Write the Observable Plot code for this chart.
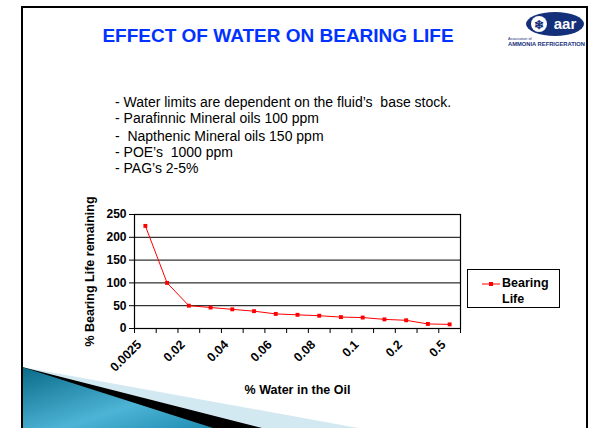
<!DOCTYPE html>
<html>
<head>
<meta charset="utf-8">
<script src="https://cdn.jsdelivr.net/npm/d3@7"></script>
<script src="https://cdn.jsdelivr.net/npm/@observablehq/plot@0.6"></script>
<style>
  html, body { margin: 0; padding: 0; background: #fff; }
  body { width: 590px; height: 428px; position: relative; overflow: hidden; font-family: "Liberation Sans", Arial, sans-serif; }
  .abs { position: absolute; }
  #slide { left: 21px; top: 6px; width: 563px; height: 520px; border: 2px solid #000; border-bottom: none; }
  #title { left: 0; width: 556px; top: 25px; text-align: center; color: #0033ff; font-weight: bold; font-size: 19px; white-space: nowrap; }
  .bl { left: 115px; font-size: 14px; color: #000; white-space: pre; line-height: 1; }
  #legend { left: 467px; top: 269px; width: 93px; height: 39px; border: 1px solid #000; box-sizing: border-box; background: #fff; }
  .lt { position: absolute; font-weight: bold; font-size: 12.5px; line-height: 1; }
  #chart { left: 0; top: 170px; }
</style>
</head>
<body>
<svg class="abs" style="left:0;top:0" width="590" height="428">
  <defs>
    <linearGradient id="wg" x1="0" y1="0" x2="1" y2="1">
      <stop offset="0" stop-color="#0a6a88"/>
      <stop offset="0.6" stop-color="#4db4d6"/>
      <stop offset="1" stop-color="#1f8db1"/>
    </linearGradient>
  </defs>
  <polygon points="22,367 358,428 22,428" fill="#d3e9f1"/>
  <polygon points="22,367 262,428 22,428" fill="#000"/>
  <polygon points="22,367 213,428 22,428" fill="url(#wg)"/>
</svg>
<div id="slide" class="abs"></div>
<div id="title" class="abs">EFFECT OF WATER ON BEARING LIFE</div>
<svg class="abs" style="left:500px;top:8px" width="88" height="44">
  <ellipse cx="55" cy="16" rx="29" ry="12" fill="#15307a"/>
  <circle cx="39" cy="16" r="8" fill="#fff"/>
  <text x="39" y="20.5" fill="#15307a" font-size="12" font-weight="bold" text-anchor="middle">❄</text>
  <text x="65" y="21" fill="#fff" font-size="15" font-weight="bold" text-anchor="middle" font-family="Liberation Sans, Arial">aar</text>
  <text x="8" y="32" fill="#15307a" font-size="3.8" font-family="Liberation Sans, Arial">Association of</text>
  <text x="8" y="37.5" fill="#15307a" font-size="5.5" font-weight="bold" font-family="Liberation Sans, Arial" textLength="77" lengthAdjust="spacingAndGlyphs">AMMONIA REFRIGERATION</text>
</svg>
<div class="abs bl" style="top:95px">- Water limits are dependent on the fluid’s  base stock.</div>
<div class="abs bl" style="top:111px">- Parafinnic Mineral oils 100 ppm</div>
<div class="abs bl" style="top:129px">-  Napthenic Mineral oils 150 ppm</div>
<div class="abs bl" style="top:145px">- POE’s  1000 ppm</div>
<div class="abs bl" style="top:161px">- PAG’s 2-5%</div>
<div id="chart" class="abs"></div>
<div id="legend" class="abs">
  <svg style="position:absolute;left:14px;top:11px" width="20" height="6">
    <line x1="0" y1="3" x2="18" y2="3" stroke="#ff0000" stroke-width="1"/>
    <rect x="7" y="1" width="4" height="4" fill="#ff0000"/>
  </svg>
  <div class="lt" style="left:34px;top:7px">Bearing</div>
  <div class="lt" style="left:34px;top:23px">Life</div>
</div>
<script>
// Data
const categories = ["0.0025","0.01","0.02","0.03","0.04","0.05","0.06","0.07","0.08","0.09","0.1","0.15","0.2","0.3","0.5"];
const bearingLife = [225, 100, 50, 46, 42, 38, 32, 30, 28, 25, 24, 20, 18, 10, 9];
const labeledCategories = ["0.0025","0.02","0.04","0.06","0.08","0.1","0.2","0.5"];
const yTicks = [0, 50, 100, 150, 200, 250];

const data = categories.map((c, i) => ({idx: i + 1, cat: c, value: bearingLife[i]}));
const boundaries = d3.range(0, categories.length + 1).map(i => i + 0.5);
const labelIdx = labeledCategories.map(c => categories.indexOf(c) + 1);

const chart = Plot.plot({
  width: 590,
  height: 258,
  marginLeft: 134,
  marginRight: 130,
  marginTop: 44,
  marginBottom: 100,
  style: {fontFamily: "'Liberation Sans', Arial, sans-serif", fontWeight: "bold", fontSize: "12px", color: "#000", background: "transparent", overflow: "visible"},
  x: {domain: [0.5, categories.length + 0.5]},
  y: {domain: [0, 250]},
  marks: [
    Plot.ruleY(yTicks.filter(v => v > 0 && v < 250), {stroke: "#000", strokeWidth: 1}),
    Plot.frame({stroke: "#000", strokeWidth: 1.2}),
    Plot.axisY({ticks: yTicks, tickSize: 5, tickPadding: 3, label: null, fontSize: 12, fontWeight: "bold", stroke: "#000"}),
    Plot.axisX({ticks: boundaries, tickSize: 5, tickFormat: () => "", label: null, stroke: "#000"}),
    Plot.axisX({ticks: labelIdx, tickSize: 0, tickPadding: 10, tickRotate: -45, label: null,
      tickFormat: i => categories[i - 1], fontSize: 12.5, fontWeight: "bold", dx: -6, dy: 4}),
    Plot.text(["% Water in the Oil"], {frameAnchor: "bottom", dy: 65, fontSize: 12.5, fontWeight: "bold"}),
    Plot.text(["% Bearing Life remaining"], {frameAnchor: "left", textAnchor: "middle", dx: -45, rotate: -90, fontSize: 12.5, fontWeight: "bold"}),
    Plot.lineY(data, {x: "idx", y: "value", stroke: "#ff0000", strokeWidth: 1}),
    Plot.dot(data, {x: "idx", y: "value", r: 2.2, fill: "#ff0000", symbol: "square"})
  ]
});
document.getElementById("chart").appendChild(chart);
</script>
</body>
</html>
